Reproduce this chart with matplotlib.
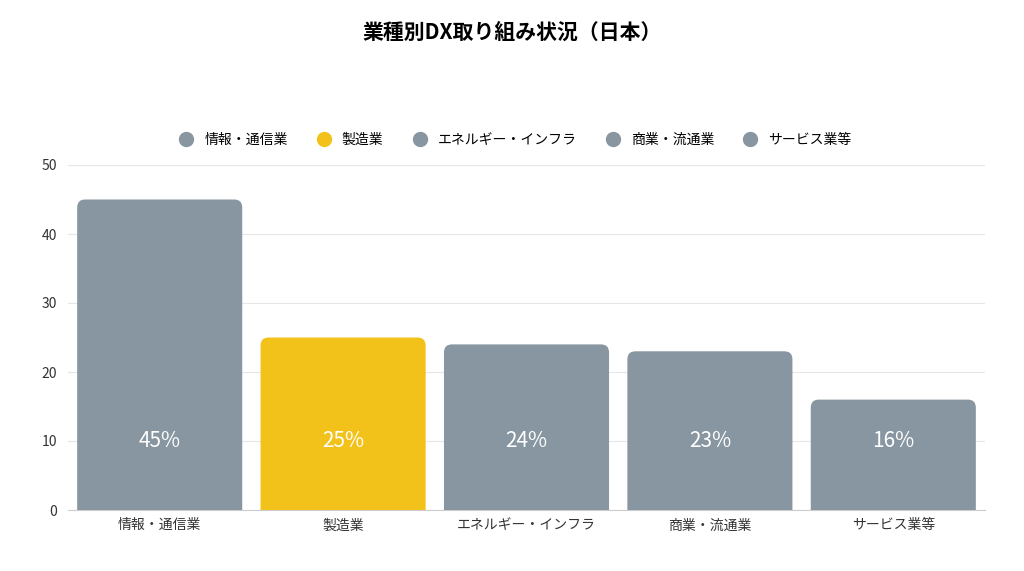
import matplotlib
matplotlib.use("Agg")
import matplotlib.pyplot as plt
from matplotlib.patches import FancyBboxPatch
from matplotlib.lines import Line2D

plt.rcParams["font.family"] = "Noto Sans CJK JP"

# ----- DATA -----
categories = ["情報・通信業", "製造業", "エネルギー・インフラ", "商業・流通業", "サービス業等"]
values = [45, 25, 24, 23, 16]
labels = ["45%", "25%", "24%", "23%", "16%"]
highlight = "製造業"

gray = "#8796A0"
yellow = "#F2C21B"
colors = [yellow if c == highlight else gray for c in categories]

fig = plt.figure(figsize=(10.24, 5.71), dpi=100)
ax = fig.add_axes([68 / 1024, 61 / 571, 917 / 1024, 345 / 571])

width = 0.9
rx = 8 / 183.4
ry = 8 / 6.9
for i, (v, col) in enumerate(zip(values, colors)):
    p = FancyBboxPatch((i - width / 2, -3), width, v + 3,
                       boxstyle=f"round,pad=0,rounding_size={rx}",
                       mutation_aspect=ry / rx, fc=col, ec="none", zorder=3)
    ax.add_patch(p)
    ax.text(i, 10, labels[i], ha="center", va="center", color="white",
            fontsize=15, zorder=4)

ax.set_xlim(-0.5, 4.5)
ax.set_ylim(0, 50)
ax.set_yticks([0, 10, 20, 30, 40, 50])
ax.set_xticks(range(len(categories)))
ax.set_xticklabels(categories, fontsize=10, color="#333333")
ax.tick_params(axis="y", labelsize=10, colors="#333333", length=0, pad=8)
ax.tick_params(axis="x", length=0, pad=6)
ax.grid(axis="y", color="#e6e6e6", lw=0.8, zorder=0)
for s in ["top", "right", "left"]:
    ax.spines[s].set_visible(False)
ax.spines["bottom"].set_color("#cccccc")

handles = [Line2D([], [], marker="o", ls="", ms=10, color=c) for c in colors]
fig.legend(handles, categories, loc="center", bbox_to_anchor=(0.5, 1 - 140 / 571),
           ncol=5, frameon=False, fontsize=10, handletextpad=0.3, columnspacing=1.6)

fig.text(0.5, 1 - 32 / 571, "業種別DX取り組み状況（日本）", ha="center", va="center",
         fontsize=15, fontweight="bold")

fig.savefig("out.png", dpi=100)
